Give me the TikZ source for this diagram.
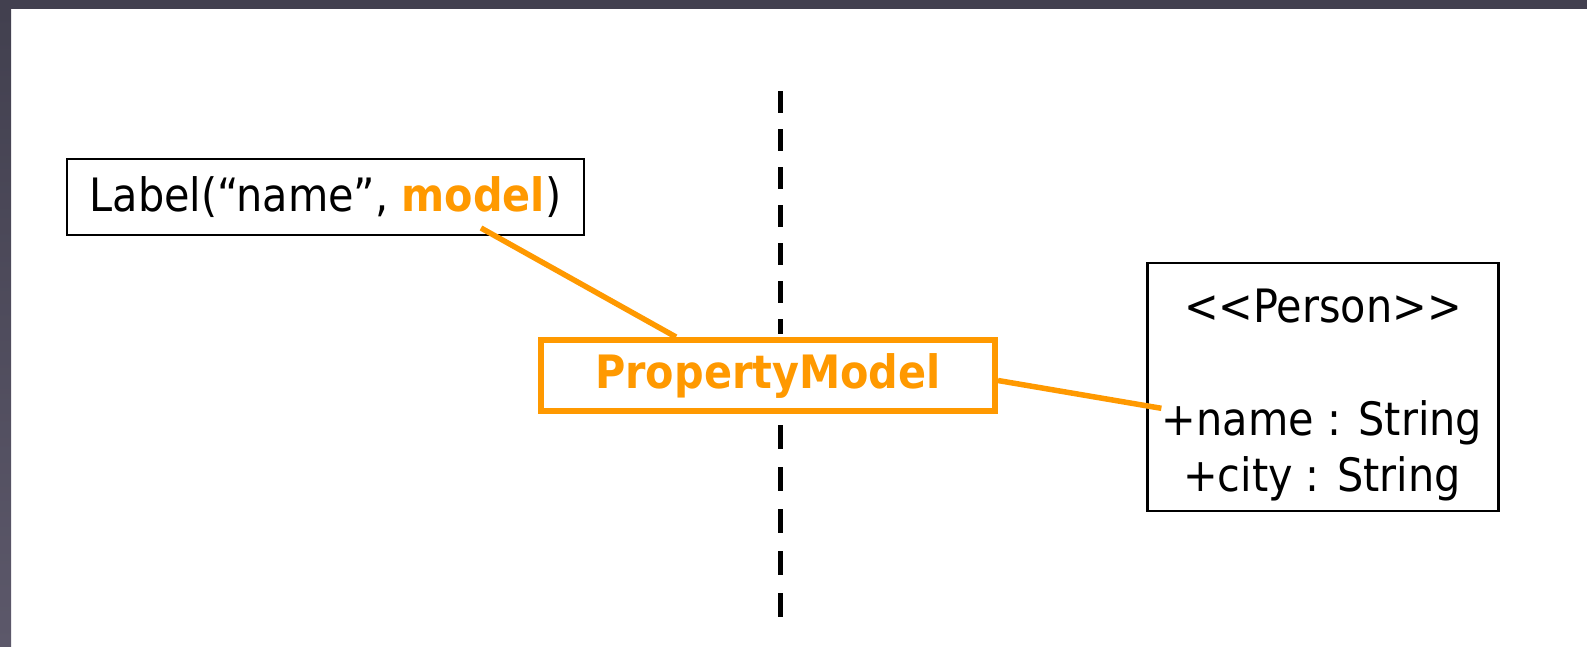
\documentclass[tikz,border=0pt]{standalone}
\usepackage{fontspec}
\setmainfont{DejaVu Sans Condensed}
\usetikzlibrary{calc}
\definecolor{frameTop}{HTML}{42404F}
\definecolor{frameBot}{HTML}{5C586A}
\definecolor{modelOrange}{HTML}{FF9900}

\begin{document}
\begin{tikzpicture}[x=1pt, y=-1pt,
    box/.style={draw, line width=2.2pt, inner sep=0pt},
    txt/.style={font=\fontsize{46}{54}\selectfont},
    link/.style={modelOrange, line width=5.5pt}]
  \useasboundingbox (0,0) rectangle (1587,646);
  \fill[white] (0,0) rectangle (1587,646);
  \fill[frameTop] (0,0) rectangle (1587,9);
  \shade[top color=frameTop, bottom color=frameBot] (0,9) rectangle (11,646);

  \node[box, txt, minimum width=517pt, minimum height=76pt] (label) at (325.5,197)
    {Label(“name”, \textcolor{modelOrange}{\textbf{model}})};
  \node[box, draw=modelOrange, line width=6pt, text=modelOrange, font=\fontsize{46}{54}\selectfont\bfseries,
    minimum width=454pt, minimum height=71pt] (pm) at (768,375.5) {PropertyModel};
  \node[box, minimum width=351pt, minimum height=248pt] (person) at (1323,387) {};
  \node[txt, anchor=base] (stereo) at (1323,322) {<{}<Person>{}>};
  \node[txt, anchor=base] (attrName) at (1322,435) {+name : String};
  \node[txt, anchor=base] (attrCity) at (1322,491) {+city : String};

  \draw[line width=5pt, dash pattern=on 22pt off 16pt] (780,91) -- (780,334);
  \draw[line width=5pt, dash pattern=on 24pt off 18pt] (780,425) -- (780,617);

  \coordinate (modelWord) at (481,228);
  \draw[link] (modelWord) -- ($(pm.north west)!0.3!(pm.north east)$);
  \draw[link] ([yshift=-5pt]pm.east) -- ([xshift=3pt, yshift=14pt]attrName.west);
\end{tikzpicture}
\end{document}
